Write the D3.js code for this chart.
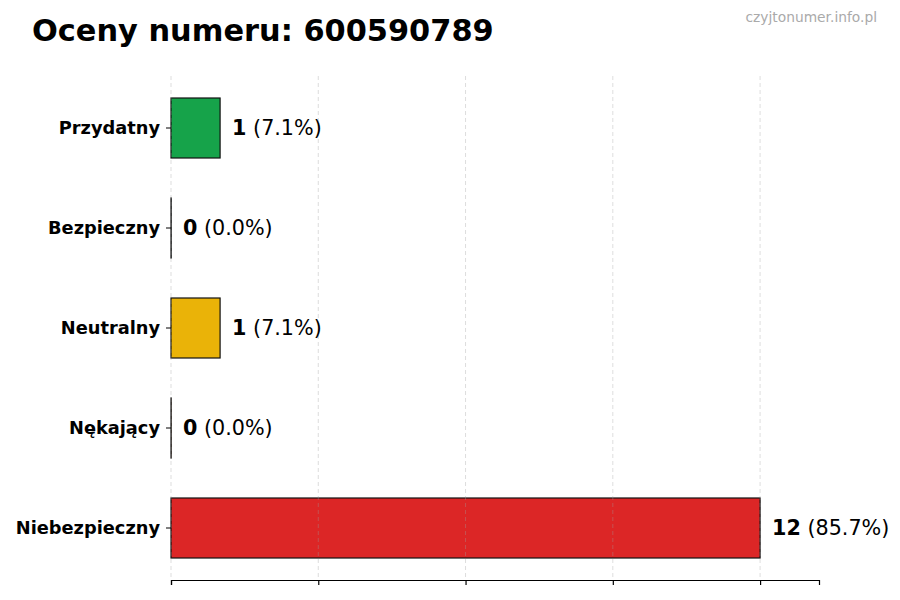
<!DOCTYPE html>
<html>
<head>
<meta charset="utf-8">
<script src="https://cdn.jsdelivr.net/npm/d3@7"></script>
<style>
  body { margin: 0; background: #fff; }
  svg { font-family: "DejaVu Sans", sans-serif; }
</style>
</head>
<body>
<svg width="900" height="600"></svg>
<script>
// data
const categories = ['Przydatny', 'Bezpieczny', 'Neutralny', 'Nękający', 'Niebezpieczny'];
const counts = [1, 0, 1, 0, 12];
const percents = ['7.1%', '0.0%', '7.1%', '0.0%', '85.7%'];
const colors = ['#16a34a', '#9ca3af', '#eab308', '#f97316', '#dc2626'];
const xTicks = [0, 3, 6, 9, 12];

let svg = d3.select('svg');

const margin = {top: 76, right: 81, bottom: 20, left: 171},
    width = +svg.attr('width') - margin.left - margin.right,
    height = +svg.attr('height') - margin.top - margin.bottom;

let g = svg.append('g').attr('transform', `translate(${margin.left}, ${margin.top})`);

let x = d3.scaleLinear()
    .domain([0, d3.max(counts) * 1.1])
    .range([0, width]);

let y = d3.scaleBand()
    .domain(categories)
    .range([0, height])
    .paddingInner(0.4)
    .paddingOuter(0.22);

let rows = categories.map((c, i) => ({cat: c, n: counts[i], pct: percents[i], color: colors[i]}));

// bars (zero bars keep a hairline so the edge stroke still shows)
g.append('g')
  .selectAll('rect')
  .data(rows)
  .enter().append('rect')
    .attr('x', x(0))
    .attr('y', d => y(d.cat))
    .attr('width', d => Math.max(x(d.n) - x(0), 0.2))
    .attr('height', y.bandwidth())
    .attr('fill', d => d.color)
    .attr('stroke', '#111')
    .attr('stroke-width', 1.2);

// grid on top, faint
g.append('g')
  .selectAll('line')
  .data(xTicks)
  .enter().append('line')
    .attr('x1', d => x(d)).attr('x2', d => x(d))
    .attr('y1', 0).attr('y2', height)
    .attr('stroke', 'rgba(160,160,160,0.45)')
    .attr('stroke-dasharray', '4,3')
    .attr('stroke-width', 0.8);

// axes
let xAx = g.append('g')
    .attr('transform', `translate(0, ${height})`)
    .call(d3.axisBottom(x).tickValues(xTicks).tickFormat('').tickSize(5));
xAx.select('.domain').attr('stroke', '#000').attr('stroke-width', 1.2);
xAx.selectAll('.tick line').attr('stroke', '#000').attr('stroke-width', 1.2);

let yAx = g.append('g')
    .call(d3.axisLeft(y).tickSize(5).tickPadding(6));
yAx.select('.domain').remove();
yAx.selectAll('.tick line').attr('stroke', '#000');
yAx.selectAll('.tick text')
    .attr('font-family', '"DejaVu Sans", sans-serif')
    .attr('font-size', 17.8)
    .attr('font-weight', 'bold')
    .attr('fill', '#000');

// value labels
let lbl = g.append('g')
  .selectAll('text')
  .data(rows)
  .enter().append('text')
    .attr('x', d => x(d.n) + 12)
    .attr('y', d => y(d.cat) + y.bandwidth() / 2)
    .attr('dy', '0.35em')
    .attr('font-size', 20.7)
    .attr('fill', '#000');
lbl.append('tspan').attr('font-weight', 'bold').text(d => d.n);
lbl.append('tspan').text(d => ` (${d.pct})`);

// title + watermark
svg.append('text')
    .attr('x', 32).attr('y', 41)
    .attr('font-size', 30.4)
    .attr('font-weight', 'bold')
    .text('Oceny numeru: 600590789');

svg.append('text')
    .attr('x', 877).attr('y', 22)
    .attr('text-anchor', 'end')
    .attr('font-size', 13.8)
    .attr('fill', '#aaa')
    .text('czyjtonumer.info.pl');
</script>
</body>
</html>
